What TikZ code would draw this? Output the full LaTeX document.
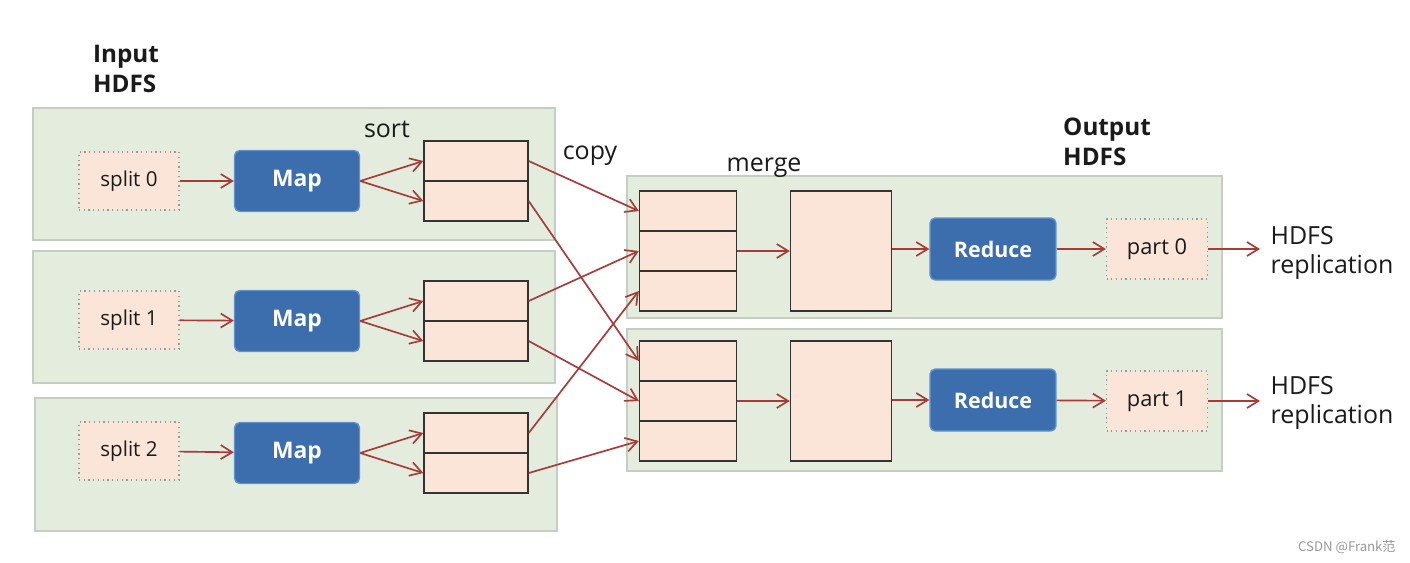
\documentclass[tikz,border=0pt]{standalone}
\usepackage{fontspec}
\setmainfont{Open Sans}
\newfontfamily\cjkfont{Noto Sans CJK SC}
\usetikzlibrary{arrows.meta}
\definecolor{gfill}{HTML}{E4EDDD}
\definecolor{gline}{HTML}{C5CEC2}
\definecolor{pfill}{HTML}{FBE5D8}
\definecolor{bfill}{HTML}{3C6EAD}
\definecolor{bline}{HTML}{5E93D2}
\definecolor{arr}{HTML}{A83A3A}
\definecolor{txt}{HTML}{1A1A1A}
\tikzset{
  greenbox/.style={fill=gfill, draw=gline, line width=0.9pt},
  splitbox/.style={fill=pfill, draw=gray!80, dotted, line width=0.7pt, minimum width=2cm, minimum height=1.16cm, inner sep=0pt, font=\fontsize{11.7}{14}\selectfont, text=txt},
  partbox/.style={splitbox, minimum width=2.02cm, minimum height=1.2cm, font=\fontsize{12.4}{14}\selectfont},
  bluebox/.style={fill=bfill, draw=bline, line width=0.8pt, rounded corners=3pt, text=white, font=\bfseries\fontsize{13}{15}\selectfont, inner sep=0pt},
  mapbox/.style={bluebox, minimum width=2.5cm, minimum height=1.22cm},
  redbox/.style={bluebox, minimum width=2.52cm, minimum height=1.24cm, font=\bfseries\fontsize{12.2}{14}\selectfont},
  cell/.style={fill=pfill, draw=black!80, line width=0.8pt, minimum width=2.08cm, minimum height=0.8cm, inner sep=0pt},
  mcell/.style={cell, minimum width=1.94cm},
  bigbox/.style={fill=pfill, draw=black!80, line width=0.8pt, minimum width=2.02cm, minimum height=2.4cm, inner sep=0pt},
  lbl/.style={font=\fontsize{14.2}{17}\selectfont, text=txt, inner sep=0pt},
  blbl/.style={font=\bfseries\fontsize{13.8}{17}\selectfont, text=txt, inner sep=0pt, align=left},
  conn/.style={draw=arr, line width=0.95pt, -{Straight Barb[length=2.3mm, width=2.8mm, line width=0.95pt]}},
}
\begin{document}
\begin{tikzpicture}[x=0.02cm, y=-0.02cm]
\useasboundingbox[fill=white] (0,0) rectangle (1410,562);
% green panels
\path[greenbox] (33,108) rectangle (555,240);
\path[greenbox] (33,251) rectangle (555,383);
\path[greenbox] (35,398) rectangle (557,531);
\path[greenbox] (627,176) rectangle (1222,318);
\path[greenbox] (627,329) rectangle (1222,471);
% labels
\node[blbl] (inhdfs) at (126,69) {Input\\HDFS};
\node[blbl] (outhdfs) at (1107,142) {Output\\HDFS};
\node[lbl] (sortl) at (387,129) {sort};
\node[lbl] (copyl) at (590,156) {copy};
\node[lbl] (mergel) at (764,168) {merge};
% map rows
\node[splitbox] (sp0) at (129,181) {split 0};
\node[mapbox] (map0) at (297,181) {Map};
\node[cell] (s0a) at (476,161) {};
\node[cell] (s0b) at (476,201) {};
\node[splitbox] (sp1) at (129,320) {split 1};
\node[mapbox] (map1) at (297,321) {Map};
\node[cell] (s1a) at (476,301) {};
\node[cell] (s1b) at (476,341) {};
\node[splitbox] (sp2) at (129,451) {split 2};
\node[mapbox] (map2) at (297,453) {Map};
\node[cell] (s2a) at (476,433) {};
\node[cell] (s2b) at (476,473) {};
% reduce rows
\node[mcell] (ma0) at (688,211) {};
\node[mcell] (ma1) at (688,251) {};
\node[mcell] (ma2) at (688,291) {};
\node[bigbox] (ba) at (841,251) {};
\node[redbox] (ra) at (993,249) {Reduce};
\node[partbox] (pa) at (1157,249) {part 0};
\node[lbl, align=left] (ha) at (1332,253) {HDFS\\replication};
\node[mcell] (mb0) at (688,361) {};
\node[mcell] (mb1) at (688,401) {};
\node[mcell] (mb2) at (688,441) {};
\node[bigbox] (bb) at (841,401) {};
\node[redbox] (rb) at (993,400) {Reduce};
\node[partbox] (pb) at (1157,401) {part 1};
\node[lbl, align=left] (hb) at (1332,403) {HDFS\\replication};
\coordinate (ea) at (1260,249);
\coordinate (eb) at (1260,401);
% arrows map side
\foreach \i in {0,1,2}{
  \draw[conn] (sp\i) -- (map\i);
  \draw[conn] (map\i.east) -- (s\i a.west);
  \draw[conn] (map\i.east) -- (s\i b.west);
}
% copy arrows
\draw[conn] (s0a.east) -- (ma0.west);
\draw[conn] (s0b.east) -- (mb0.west);
\draw[conn] (s1a.east) -- (ma1.west);
\draw[conn] (s1b.east) -- (mb1.west);
\draw[conn] (s2a.east) -- (ma2.west);
\draw[conn] (s2b.east) -- (mb2.west);
% reduce side arrows
\draw[conn] (ma1.east) -- (ba.west);
\draw[conn] (ba.east |- ra) -- (ra.west);
\draw[conn] (ra) -- (pa);
\draw[conn] (pa) -- (ea);
\draw[conn] (mb1.east) -- (bb.west);
\draw[conn] (bb.east |- rb) -- (rb.west);
\draw[conn] (rb) -- (pb);
\draw[conn] (pb) -- (eb);
% watermark text
\node[font=\cjkfont\fontsize{7.5}{9}\selectfont, text=gray!80, anchor=east, inner sep=0pt] (wm) at (1396,547) {CSDN @Frank范};
\end{tikzpicture}
\end{document}
